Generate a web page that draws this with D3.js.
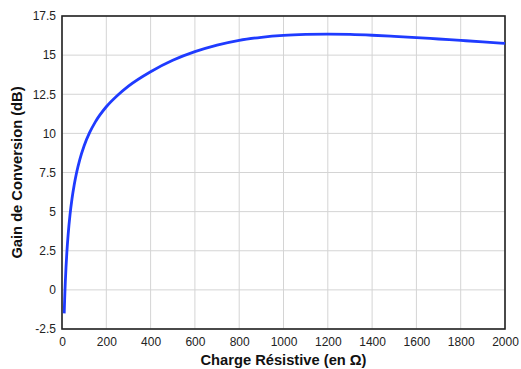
<!DOCTYPE html>
<html><head><meta charset="utf-8">
<script src="https://cdn.jsdelivr.net/npm/d3@7"></script>
<style>body{margin:0;background:#fff}svg{display:block}text{font-family:"Liberation Sans",Arial,sans-serif}</style>
</head><body>
<svg id="c" width="521" height="369"></svg>
<script>
const resistance = [10, 11, 12, 13.5, 15, 18, 22, 28, 36, 45, 55, 66, 80, 100, 125, 150, 200, 250, 300, 400, 500, 600, 700, 800, 900, 1000, 1100, 1200, 1300, 1400, 1500, 1600, 1700, 1800, 1900, 2000];
const gainDb = [-1.5, -1.02, -0.59, 0, 0.52, 1.42, 2.41, 3.58, 4.78, 5.81, 6.7, 7.5, 8.31, 9.21, 10.06, 10.72, 11.7, 12.42, 13.02, 13.94, 14.67, 15.22, 15.64, 15.95, 16.14, 16.26, 16.32, 16.34, 16.32, 16.27, 16.2, 16.12, 16.03, 15.94, 15.85, 15.75];
const xTicks = [0, 200, 400, 600, 800, 1000, 1200, 1400, 1600, 1800, 2000];
const yTicks = [-2.5, 0, 2.5, 5, 7.5, 10, 12.5, 15, 17.5];
const xTitle = "Charge Résistive (en Ω)";
const yTitle = "Gain de Conversion (dB)";

const svg = d3.select("#c");
const m = {l: 62, r: 505, t: 16, b: 329};
const x = d3.scaleLinear().domain([0, 2000]).range([m.l, m.r]);
const y = d3.scaleLinear().domain([-2.5, 17.5]).range([m.b, m.t]);

// grid
svg.append("g").selectAll("line").data(xTicks).join("line")
  .attr("x1", d => x(d)).attr("x2", d => x(d)).attr("y1", m.t).attr("y2", m.b)
  .attr("stroke", "#d4d4d4").attr("stroke-width", 1);
svg.append("g").selectAll("line").data(yTicks).join("line")
  .attr("x1", m.l).attr("x2", m.r).attr("y1", d => y(d)).attr("y2", d => y(d))
  .attr("stroke", "#d4d4d4").attr("stroke-width", 1);

// axes (labels only)
const xa = svg.append("g").attr("transform", `translate(0,${m.b})`)
  .call(d3.axisBottom(x).tickValues(xTicks).tickSize(0).tickPadding(8).tickFormat(d3.format("d")));
const ya = svg.append("g").attr("transform", `translate(${m.l},0)`)
  .call(d3.axisLeft(y).tickValues(yTicks).tickSize(0).tickPadding(6).tickFormat(d => String(d)));
[xa, ya].forEach(a => {
  a.select(".domain").remove();
  a.selectAll("text").attr("font-size", 12).attr("fill", "#222")
    .attr("font-family", "'Liberation Sans', Arial, sans-serif");
});

// frame
svg.append("rect").attr("x", m.l).attr("y", m.t).attr("width", m.r - m.l).attr("height", m.b - m.t)
  .attr("fill", "none").attr("stroke", "#222").attr("stroke-width", 1.6);

// line
const pts = resistance.map((r, i) => [r, gainDb[i]]);
svg.append("path").datum(pts)
  .attr("fill", "none").attr("stroke", "#1f3bff").attr("stroke-width", 2.8)
  .attr("stroke-linejoin", "round")
  .attr("d", d3.line().x(d => x(d[0])).y(d => y(d[1])).curve(d3.curveMonotoneX));

// titles
svg.append("text").attr("x", (m.l + m.r) / 2).attr("y", 365)
  .attr("text-anchor", "middle").attr("font-size", 14.7).attr("font-weight", "bold").attr("fill", "#111")
  .text(xTitle);
svg.append("text").attr("transform", `translate(22,${(m.t + m.b) / 2}) rotate(-90)`)
  .attr("text-anchor", "middle").attr("font-size", 14.7).attr("font-weight", "bold").attr("fill", "#111")
  .text(yTitle);
</script>
</body></html>
